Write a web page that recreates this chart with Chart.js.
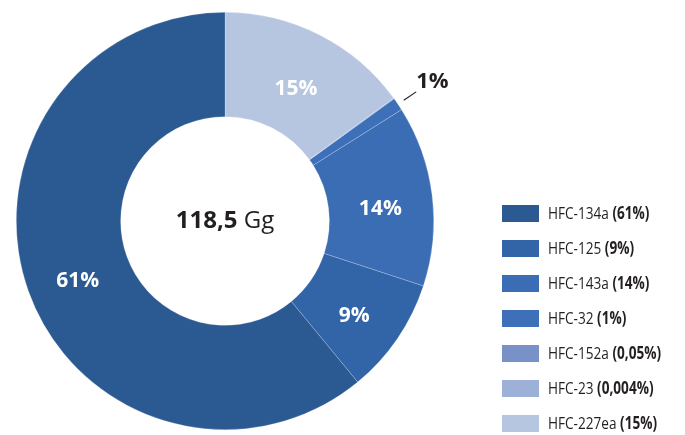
<!DOCTYPE html>
<html>
<head>
<meta charset="utf-8">
<script src="https://cdn.jsdelivr.net/npm/chart.js@4/dist/chart.umd.min.js"></script>
<style>
html, body { margin: 0; padding: 0; background: #fff; }
#wrap { width: 685px; height: 435px; position: relative; }
</style>
</head>
<body>
<div id="wrap"><canvas id="myChart"></canvas></div>
<script>
// legend order (top to bottom)
const gases = ['HFC-134a', 'HFC-125', 'HFC-143a', 'HFC-32', 'HFC-152a', 'HFC-23', 'HFC-227ea'];
const shares = [61, 9, 14, 1, 0.05, 0.004, 15];
const colors = ['#2b5a92', '#3265a7', '#3b6db5', '#3d70b9', '#7891c9', '#9cb0d8', '#b6c5e0'];
const totalValue = '118,5';
const totalUnit = 'Gg';

// the ring runs clockwise from the top in reverse legend order
const ringLabels = gases.slice().reverse();
const ringData = shares.slice().reverse();
const ringColors = colors.slice().reverse();

const labelFont = '"Open Sans", sans-serif';
const legendFont = '"Open Sans", sans-serif';

function fmt(v) {
    return String(v).replace('.', ',');
}

const extras = {
    id: 'extras',
    afterDatasetsDraw(chart) {
        const c = chart.ctx;
        const meta = chart.getDatasetMeta(0);
        c.save();
        meta.data.forEach(function (arc, i) {
            const v = ringData[i];
            if (v < 1) return;
            const txt = fmt(v) + '%';
            if (v >= 5) {
                const p = arc.tooltipPosition();
                c.font = 'bold 21px ' + labelFont;
                c.fillStyle = '#ffffff';
                c.textAlign = 'center';
                c.textBaseline = 'middle';
                c.fillText(txt, p.x, p.y + 7);
            } else {
                // small slice: label outside with a short leader line
                const a = (arc.startAngle + arc.endAngle) / 2;
                const r = arc.outerRadius;
                const x1 = arc.x + Math.cos(a) * (r + 7);
                const y1 = arc.y + Math.sin(a) * (r + 7);
                const x2 = arc.x + Math.cos(a) * (r + 22);
                const y2 = arc.y + Math.sin(a) * (r + 22);
                c.strokeStyle = '#231f20';
                c.lineWidth = 1.2;
                c.beginPath();
                c.moveTo(x1, y1);
                c.lineTo(x2, y2);
                c.stroke();
                c.font = 'bold 22px ' + labelFont;
                c.fillStyle = '#231f20';
                c.textAlign = 'left';
                c.textBaseline = 'bottom';
                c.fillText(txt, x2, y2 + 1);
            }
        });

        // total in the hole
        const cx = meta.data[0].x, cy = meta.data[0].y;
        c.textBaseline = 'middle';
        c.textAlign = 'left';
        c.fillStyle = '#231f20';
        c.font = 'bold 24px ' + labelFont;
        const w1 = c.measureText(totalValue + ' ').width;
        c.font = '24px ' + labelFont;
        const w2 = c.measureText(totalUnit).width;
        let x = cx - (w1 + w2) / 2;
        c.font = 'bold 24px ' + labelFont;
        c.fillText(totalValue + ' ', x, cy);
        c.font = '24px ' + labelFont;
        c.fillText(totalUnit, x + w1, cy);

        // legend, text squeezed to look like a condensed face
        const lx = 502, ly = 205, step = 35, squeeze = 0.8;
        gases.forEach(function (g, i) {
            const y = ly + i * step;
            c.fillStyle = colors[i];
            c.fillRect(lx, y, 37, 17);
            c.save();
            c.translate(lx + 46, y + 9);
            c.scale(squeeze, 1);
            c.fillStyle = '#231f20';
            c.textBaseline = 'middle';
            c.font = '17px ' + legendFont;
            c.fillText(g + ' ', 0, 0);
            const gw = c.measureText(g + ' ').width;
            c.font = 'bold 17px ' + legendFont;
            c.fillText('(' + fmt(shares[i]) + '%)', gw, 0);
            c.restore();
        });
        c.restore();
    }
};

const ctx = document.getElementById('myChart');
const myChart = new Chart(ctx, {
    type: 'doughnut',
    data: {
        labels: ringLabels,
        datasets: [{
            data: ringData,
            backgroundColor: ringColors,
            borderColor: 'rgba(255,255,255,0.35)',
            borderWidth: 0.6
        }]
    },
    options: {
        responsive: true,
        maintainAspectRatio: false,
        animation: false,
        cutout: '50%',
        layout: { padding: { left: 16, top: 12, right: 251, bottom: 5 } },
        plugins: {
            legend: { display: false },
            tooltip: { enabled: false }
        }
    },
    plugins: [extras]
});
</script>
</body>
</html>
